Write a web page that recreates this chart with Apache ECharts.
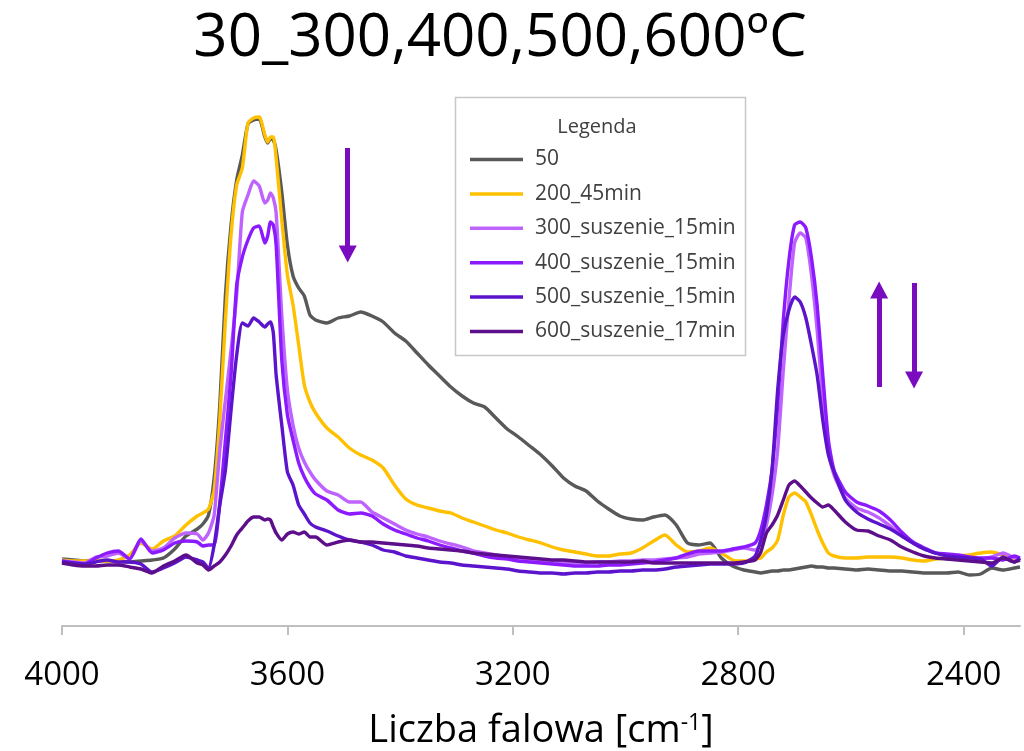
<!DOCTYPE html>
<html>
<head>
<meta charset="utf-8">
<script src="https://cdn.jsdelivr.net/npm/echarts@6/dist/echarts.min.js"></script>
<style>
  html, body { margin: 0; padding: 0; background: #fff; }
  #chart { width: 1024px; height: 751px; }
</style>
</head>
<body>
<div id="chart"></div>
<script>
// Wavenumbers [cm-1]
const wavenumbers = [
  4000,3980,3960,3940,3920,3900,3880,3860,3840,3820,3800,3780,3760,
  3750,3740,3730,3720,3710,3700,3690,3680,3670,3660,3650,3640,3635,3630,3625,3620,3610,3600,3590,3580,3570,3560,3550,
  3530,3510,3490,3470,3450,3430,3410,3390,3370,3350,3330,3310,3290,3270,3250,3230,3210,3190,3170,3150,3130,3110,3090,3070,3050,3030,3010,2990,2970,2950,2930,2910,2890,2870,2850,2830,2810,2790,
  2770,2760,2750,2740,2730,2720,2710,2700,2690,2680,2670,2660,2650,2640,2630,
  2610,2590,2570,2550,2530,2510,2490,2470,2450,2430,2410,2390,2370,2350,2330,2310,2300
];

const seriesNames = ['50','200_45min','300_suszenie_15min','400_suszenie_15min','500_suszenie_15min','600_suszenie_17min'];

const s50 = [
  13.4,13.2,13.0,13.2,13.0,13.0,12.8,13.0,13.2,13.6,15.4,18.0,19.4,
  20.4,22.2,29.6,44.2,66.2,80.2,89.2,94.2,100.4,101.2,101.4,97.8,96.6,97.4,97.2,95.2,86.8,76.2,70.0,67.6,66.0,62.2,61.2,
  60.6,61.6,62.0,62.8,62.0,60.8,58.6,57.0,54.6,52.2,50.0,47.8,46.0,44.6,43.8,41.6,39.4,37.8,36.0,34.2,32.0,29.6,28.0,27.0,25.0,23.4,22.0,21.4,21.2,21.8,22.2,20.2,16.6,16.2,16.6,13.6,12.0,11.2,
  10.8,10.6,10.8,11.0,11.0,11.2,11.2,11.4,11.6,11.8,12.0,11.8,11.8,11.6,11.6,
  11.4,11.2,11.4,11.2,11.0,11.0,10.8,10.6,10.6,10.6,10.8,10.2,10.4,11.6,11.2,11.6,11.8
];
const s200 = [
  13.2,13.0,13.0,13.0,13.0,13.2,14.2,16.6,15.4,17.0,18.0,20.2,22.0,
  22.6,23.4,27.2,41.2,61.2,78.2,88.2,91.6,100.6,101.6,101.8,98.2,96.8,97.8,97.8,93.6,81.2,70.2,64.2,56.2,48.2,44.8,42.6,
  39.6,37.8,35.6,34.2,33.2,31.6,28.2,25.4,24.2,23.6,23.0,22.6,21.6,20.8,20.0,19.2,18.6,17.8,17.2,16.6,15.8,15.2,14.8,14.4,14.0,14.0,14.4,14.6,15.6,17.0,18.2,16.2,14.8,15.0,15.6,14.6,13.2,13.0,
  13.4,13.6,14.8,15.6,17.2,22.2,25.8,26.6,25.8,24.8,22.2,19.2,16.6,14.6,14.0,
  13.6,13.6,13.8,13.8,13.8,13.6,13.2,13.0,13.4,13.6,14.0,14.2,14.6,14.8,14.2,13.4,13.2
];
const s300 = [
  13.0,12.8,12.6,13.8,14.0,14.6,13.4,17.0,15.0,15.6,17.6,18.6,18.4,
  17.2,18.6,22.2,35.2,45.2,55.2,66.2,82.8,86.2,89.0,88.0,84.6,85.2,86.6,85.6,82.6,62.2,47.2,40.2,35.6,32.8,30.8,29.2,
  27.0,26.2,24.8,24.8,22.8,21.6,20.4,19.2,18.4,17.8,17.0,16.4,15.8,15.0,14.6,14.2,13.8,13.6,13.2,13.0,12.8,12.8,12.6,12.6,12.8,12.8,13.0,13.0,13.2,13.2,13.4,13.6,13.8,14.4,14.6,14.8,15.2,15.6,
  15.2,16.4,20.2,26.2,35.2,51.2,65.2,76.6,78.6,77.6,70.2,59.2,45.2,35.2,30.2,
  25.6,23.6,22.8,21.6,20.0,18.2,16.6,15.4,14.6,14.2,13.8,13.6,13.4,13.8,14.6,13.6,13.2
];
const s400 = [
  13.0,12.6,12.4,13.6,14.6,15.0,13.4,17.4,14.6,15.2,16.6,17.0,16.8,
  16.0,16.2,16.2,24.6,37.2,50.2,68.2,73.8,77.2,79.6,80.0,76.6,78.0,80.8,80.2,76.2,53.2,42.2,37.2,32.6,29.8,27.8,26.4,
  25.2,23.2,22.4,22.6,22.0,20.4,19.2,18.4,17.6,17.0,16.2,15.6,15.0,14.6,14.0,13.6,13.4,13.0,12.8,12.6,12.4,12.2,12.0,12.0,12.0,12.2,12.2,12.4,12.6,12.8,13.2,13.6,14.4,15.0,15.0,15.0,15.4,15.8,
  16.6,19.2,24.2,31.2,44.2,61.2,73.2,80.2,80.8,79.6,73.6,64.2,50.2,37.2,31.2,
  26.8,24.8,24.0,23.0,21.2,18.8,16.8,15.6,14.6,14.4,14.2,13.8,13.6,13.6,13.2,14.0,13.6
];
const s500 = [
  12.8,12.6,12.4,12.8,13.2,12.8,12.8,12.4,10.8,11.6,12.6,13.8,13.2,
  12.8,11.6,16.2,24.2,31.2,43.2,54.2,60.6,60.0,61.6,60.8,59.8,60.4,60.8,58.6,50.2,40.2,30.8,28.2,24.2,22.4,20.6,19.8,
  19.0,18.0,17.2,16.8,16.2,15.2,14.8,14.0,13.6,13.2,12.8,12.6,12.2,12.0,11.8,11.6,11.4,11.0,10.8,10.6,10.6,10.4,10.6,10.6,10.8,10.8,11.0,11.0,11.2,11.2,11.4,11.8,12.0,12.2,12.4,12.4,12.4,12.6,
  14.0,17.2,22.2,31.2,47.2,58.2,63.2,65.8,64.8,61.6,56.2,50.2,41.2,34.2,30.8,
  25.2,22.8,21.4,20.4,19.4,18.0,16.6,15.4,14.6,14.0,13.8,13.6,13.4,12.0,13.8,12.8,13.6
];
const s600 = [
  12.6,12.2,12.0,12.0,12.2,12.2,11.8,11.4,10.6,12.0,13.0,14.2,12.6,
  12.2,11.2,12.0,12.8,14.2,16.0,18.2,19.6,21.0,21.8,21.8,21.2,21.4,21.2,19.8,18.6,17.2,18.4,18.8,18.4,18.8,17.8,17.8,
  16.2,16.8,17.2,16.8,16.8,16.6,16.4,16.2,16.0,15.6,15.4,15.2,15.0,14.6,14.4,14.2,14.0,13.8,13.6,13.4,13.2,13.2,13.0,12.8,12.8,12.8,12.8,12.8,13.0,12.6,12.6,12.6,12.6,12.6,12.6,12.6,12.6,12.8,
  13.2,14.8,18.6,20.2,22.2,25.2,28.2,29.0,28.0,26.8,25.6,24.6,23.8,24.2,23.2,
  20.8,19.2,19.0,18.0,17.2,15.8,14.8,14.0,13.6,13.4,13.2,13.0,12.8,12.6,13.6,12.8,13.2
];

const xTickLabels = [4000, 3600, 3200, 2800, 2400];

// Annotation arrows: [wavenumber, start value, end value]
const arrows = [
  [3493, 95.6, 74.4],
  [2550, 47.8, 67.2],
  [2488, 68.6, 49.2]
];

const colors = ['#595959', '#ffc000', '#bf63ff', '#8c1aff', '#5b14cc', '#5d0e8b'];
const arrowColor = '#7a0cc0';
const allValues = [s50, s200, s300, s400, s500, s600];

const chart = echarts.init(document.getElementById('chart'), null, { renderer: 'canvas' });

const series = allValues.map((vals, i) => ({
  name: seriesNames[i],
  type: 'line',
  data: wavenumbers.map((w, j) => [w, vals[j]]),
  showSymbol: false,
  symbol: 'none',
  smooth: 0.2,
  lineStyle: { width: 3.4, color: colors[i] },
  itemStyle: { color: colors[i] },
  z: 2 + i
}));

series[5].markLine = {
  silent: true,
  symbol: ['none', 'triangle'],
  symbolSize: [18, 17],
  label: { show: false },
  lineStyle: { color: arrowColor, width: 5, type: 'solid' },
  data: arrows.map(a => [{ coord: [a[0], a[1]] }, { coord: [a[0], a[2]] }])
};

const font = "'Open Sans', 'Noto Sans', sans-serif";

chart.setOption({
  animation: false,
  backgroundColor: '#ffffff',
  title: {
    text: '30_300,400,500,600ºC',
    left: 495,
    top: 4,
    textAlign: 'center',
    textStyle: { fontFamily: font, fontSize: 60, fontWeight: 'normal', color: '#000' }
  },
  grid: { left: 62, right: 4, top: 101, bottom: 125, containLabel: false, outerBoundsMode: 'none' },
  xAxis: {
    type: 'value',
    min: 2300,
    max: 4000,
    inverse: true,
    name: 'Liczba falowa [cm{sup|-1}]',
    nameLocation: 'middle',
    nameGap: 86,
    nameTextStyle: {
      fontFamily: font, fontSize: 38, color: '#000',
      rich: { sup: { fontFamily: font, fontSize: 23, color: '#000', verticalAlign: 'top', padding: [0, 0, 16, 0] } }
    },
    axisLine: { show: true, lineStyle: { color: '#bfbfbf', width: 2 } },
    axisTick: { show: true, length: 9, customValues: xTickLabels, lineStyle: { color: '#bfbfbf', width: 2 } },
    axisLabel: {
      customValues: xTickLabels, margin: 33, fontFamily: font, fontSize: 33, color: '#000',
      formatter: v => String(v)
    },
    splitLine: { show: false }
  },
  yAxis: {
    type: 'value',
    min: 0,
    max: 105,
    show: false,
    splitLine: { show: false }
  },
  legend: {
    orient: 'vertical',
    left: 470,
    top: 149,
    padding: 0,
    icon: 'rect',
    itemWidth: 53,
    itemHeight: 3.5,
    itemGap: 13.4,
    data: seriesNames,
    textStyle: { fontFamily: font, fontSize: 21, color: '#404040', lineHeight: 20, padding: [0, 0, 0, 7] },
    z: 10
  },
  graphic: [
    {
      type: 'rect',
      z: 1,
      shape: { x: 455.5, y: 97.5, width: 290, height: 258 },
      style: { fill: '#ffffff', stroke: '#c8c8c8', lineWidth: 1.5 }
    },
    {
      type: 'text',
      z: 11,
      x: 597,
      y: 127,
      style: { text: 'Legenda', fontFamily: font, fontSize: 20, fill: '#404040', textAlign: 'center', textVerticalAlign: 'middle' }
    }
  ],
  series: series
});
</script>
</body>
</html>
